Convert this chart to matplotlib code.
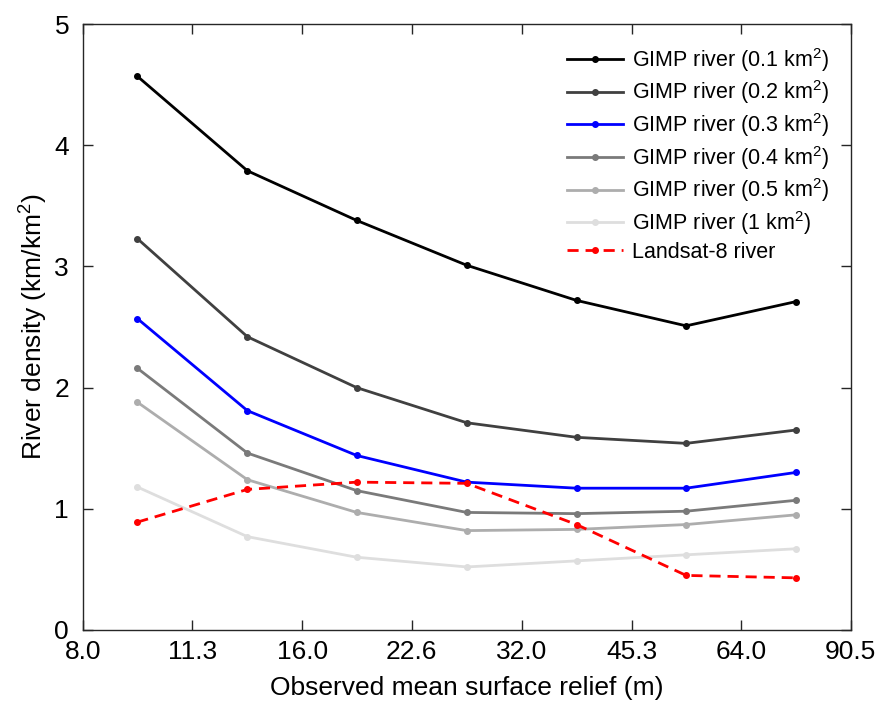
import numpy as np
import matplotlib
matplotlib.use('Agg')
import matplotlib.pyplot as plt

plt.rcParams['font.family'] = ['Liberation Sans', 'DejaVu Sans']
plt.rcParams['mathtext.fontset'] = 'custom'
plt.rcParams['mathtext.rm'] = 'Liberation Sans'

# relief bins (m), geometric centres between the tick values
relief = [9.5, 13.45, 19.0, 26.9, 38.05, 53.8, 76.1]

gimp_01 = [4.57, 3.79, 3.38, 3.01, 2.72, 2.51, 2.71]
gimp_02 = [3.23, 2.42, 2.00, 1.71, 1.59, 1.54, 1.65]
gimp_03 = [2.57, 1.81, 1.44, 1.22, 1.17, 1.17, 1.30]
gimp_04 = [2.16, 1.46, 1.15, 0.97, 0.96, 0.98, 1.07]
gimp_05 = [1.88, 1.24, 0.97, 0.82, 0.83, 0.87, 0.95]
gimp_1 = [1.18, 0.77, 0.60, 0.52, 0.57, 0.62, 0.67]
landsat = [0.89, 1.16, 1.22, 1.21, 0.87, 0.45, 0.43]

xticks = [8.0, 11.3, 16.0, 22.6, 32.0, 45.3, 64.0, 90.5]

fig = plt.figure(figsize=(8.78, 7.11), dpi=100)
ax = fig.add_axes([0.0945, 0.114, 0.8745, 0.852])

series = [
    (gimp_01, '#000000', 'GIMP river (0.1 km$^2$)'),
    (gimp_02, '#404040', 'GIMP river (0.2 km$^2$)'),
    (gimp_03, '#0000ff', 'GIMP river (0.3 km$^2$)'),
    (gimp_04, '#7a7a7a', 'GIMP river (0.4 km$^2$)'),
    (gimp_05, '#adadad', 'GIMP river (0.5 km$^2$)'),
    (gimp_1, '#dedede', 'GIMP river (1 km$^2$)'),
]
for y, c, lab in series:
    ax.plot(relief, y, '-o', color=c, lw=2, ms=4, label=lab)
ax.plot(relief, landsat, '--o', color='#ff0000', lw=2, ms=4,
        dashes=(4, 2.5), label='Landsat-8 river')

ax.set_xscale('log', base=2)
ax.set_xlim(8.0, 90.51)
ax.set_xticks(xticks)
ax.set_xticklabels(['%.1f' % v for v in xticks])
ax.minorticks_off()
ax.set_ylim(0, 5)
ax.set_yticks([0, 1, 2, 3, 4, 5])

ax.tick_params(direction='in', length=7, width=1, labelsize=19,
               top=True, right=True, color='#262626')
ax.tick_params(axis='x', pad=7)
ax.tick_params(axis='y', pad=10)
for s in ax.spines.values():
    s.set_color('#262626')
    s.set_linewidth(1)

ax.set_xlabel('Observed mean surface relief (m)', fontsize=19, labelpad=9)
ax.set_ylabel('River density (km/km$^2$)', fontsize=19, labelpad=4)

ax.legend(loc='upper right', frameon=False, fontsize=15.5, handlelength=2.6,
          labelspacing=0.22, borderaxespad=0.4, borderpad=0.6,
          handletextpad=0.4)

fig.savefig('out.png', dpi=100)
